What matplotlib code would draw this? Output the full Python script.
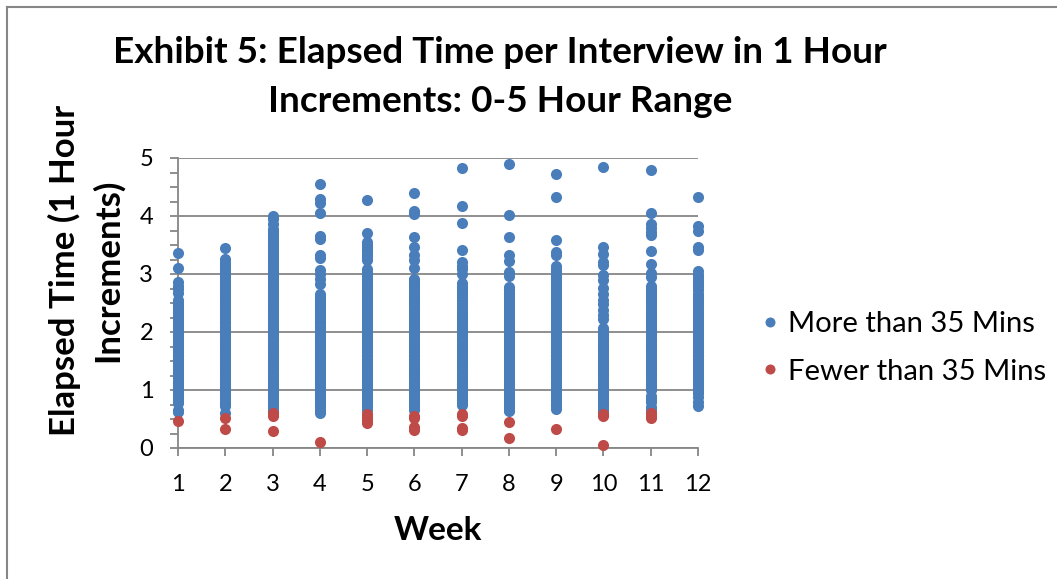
import matplotlib
matplotlib.use("Agg")
import matplotlib.pyplot as plt
from matplotlib.lines import Line2D
from matplotlib.ticker import MultipleLocator

weeks = list(range(1, 13))

# blue points (hours)
more_than_35 = {
    1: [0.62, 0.66, 0.78, 0.84, 0.9, 0.98, 1.05, 1.12, 1.2, 1.28, 1.35, 1.42, 1.5, 1.58, 1.65, 1.72, 1.8, 1.88, 1.95,
        2.05, 2.12, 2.2, 2.28, 2.35, 2.42, 2.5, 2.55, 2.68, 2.74, 2.8, 2.86, 3.1, 3.37],
    2: [0.6, 0.72, 0.8, 0.88, 0.95, 1.02, 1.1, 1.18, 1.25, 1.32, 1.4, 1.48, 1.55, 1.62, 1.7, 1.78, 1.85, 1.92, 2.0,
        2.08, 2.15, 2.22, 2.3, 2.38, 2.45, 2.52, 2.6, 2.68, 2.75, 2.82, 2.9, 2.98, 3.05, 3.12, 3.2, 3.26, 3.44],
    3: [0.62, 0.7, 0.78, 0.85, 0.92, 1.0, 1.08, 1.15, 1.22, 1.3, 1.38, 1.45, 1.52, 1.6, 1.68, 1.75, 1.82, 1.9, 1.98,
        2.05, 2.12, 2.2, 2.28, 2.35, 2.42, 2.5, 2.58, 2.65, 2.72, 2.8, 2.88, 2.95, 3.02, 3.1, 3.18, 3.25, 3.32, 3.4,
        3.48, 3.55, 3.62, 3.7, 3.78, 3.86, 3.94, 4.0],
    4: [0.6, 0.64, 0.72, 0.8, 0.88, 0.95, 1.02, 1.1, 1.18, 1.25, 1.32, 1.4, 1.48, 1.55, 1.62, 1.7, 1.78, 1.85, 1.92,
        2.0, 2.08, 2.15, 2.22, 2.3, 2.38, 2.45, 2.52, 2.6, 2.66, 2.83, 2.92, 3.0, 3.07, 3.28, 3.33, 3.6, 3.66, 4.06,
        4.22, 4.3, 4.55],
    5: [0.66, 0.74, 0.82, 0.9, 0.98, 1.05, 1.12, 1.2, 1.28, 1.35, 1.42, 1.5, 1.58, 1.65, 1.72, 1.8, 1.88, 1.95, 2.02,
        2.1, 2.18, 2.25, 2.32, 2.4, 2.48, 2.55, 2.62, 2.7, 2.78, 2.85, 2.92, 3.0, 3.08, 3.25, 3.33, 3.42, 3.5, 3.56,
        3.7, 4.27],
    6: [0.66, 0.74, 0.82, 0.9, 0.98, 1.05, 1.12, 1.2, 1.28, 1.35, 1.42, 1.5, 1.58, 1.65, 1.72, 1.8, 1.88, 1.95, 2.02,
        2.1, 2.18, 2.25, 2.32, 2.4, 2.48, 2.55, 2.62, 2.7, 2.78, 2.85, 2.92, 3.1, 3.25, 3.33, 3.47, 3.63, 4.03, 4.09,
        4.4],
    7: [0.75, 0.8, 0.86, 0.92, 1.0, 1.08, 1.15, 1.22, 1.3, 1.38, 1.45, 1.52, 1.6, 1.68, 1.75, 1.82, 1.9, 1.98, 2.05,
        2.12, 2.2, 2.28, 2.35, 2.45, 2.55, 2.65, 2.72, 2.8, 2.85, 3.0, 3.08, 3.14, 3.2, 3.42, 3.88, 4.18, 4.83],
    8: [0.63, 0.7, 0.78, 0.85, 0.92, 1.0, 1.08, 1.15, 1.22, 1.3, 1.38, 1.45, 1.52, 1.6, 1.68, 1.75, 1.82, 1.9, 1.98,
        2.05, 2.12, 2.2, 2.28, 2.35, 2.42, 2.5, 2.58, 2.65, 2.72, 2.78, 2.97, 3.03, 3.23, 3.33, 3.64, 4.02, 4.9],
    9: [0.68, 0.75, 0.82, 0.9, 0.98, 1.05, 1.12, 1.2, 1.28, 1.35, 1.42, 1.5, 1.58, 1.65, 1.72, 1.8, 1.88, 1.95, 2.02,
        2.1, 2.18, 2.25, 2.32, 2.42, 2.5, 2.58, 2.65, 2.72, 2.8, 2.88, 2.95, 3.02, 3.08, 3.14, 3.33, 3.38, 3.59, 4.33,
        4.72],
    10: [0.62, 0.68, 0.76, 0.84, 0.92, 1.0, 1.08, 1.15, 1.22, 1.3, 1.38, 1.45, 1.52, 1.6, 1.68, 1.75, 1.82, 1.9, 2.0,
         2.07, 2.22, 2.3, 2.38, 2.48, 2.55, 2.65, 2.76, 2.9, 2.98, 3.15, 3.2, 3.34, 3.47, 4.84],
    11: [0.65, 0.7, 0.8, 0.87, 1.0, 1.07, 1.15, 1.22, 1.3, 1.38, 1.45, 1.52, 1.6, 1.68, 1.75, 1.82, 1.9, 1.98, 2.05,
         2.12, 2.2, 2.28, 2.35, 2.42, 2.5, 2.58, 2.65, 2.72, 2.79, 2.95, 3.02, 3.18, 3.4, 3.67, 3.72, 3.8, 3.87, 4.05,
         4.8],
    12: [0.72, 0.8, 0.88, 0.95, 1.02, 1.1, 1.18, 1.25, 1.32, 1.42, 1.5, 1.58, 1.65, 1.72, 1.8, 1.88, 1.95, 2.02, 2.1,
         2.18, 2.25, 2.32, 2.42, 2.5, 2.58, 2.66, 2.72, 2.82, 2.9, 2.98, 3.05, 3.42, 3.47, 3.74, 3.83, 4.32],
}

# the packed middle of each column, where single dots can only be guessed
more_than_35_packed = {
    1: [0.81, 0.87, 0.94, 1.02, 1.08, 1.16, 1.24, 1.31, 1.38, 1.46, 1.54, 1.61, 1.68, 1.76, 1.84, 1.91, 1.98, 2.08,
        2.16, 2.24, 2.32, 2.38, 2.46],
    2: [0.76, 0.84, 0.91, 0.98, 1.06, 1.14, 1.21, 1.28, 1.36, 1.44, 1.51, 1.58, 1.66, 1.74, 1.81, 1.88, 1.96, 2.04,
        2.11, 2.18, 2.26, 2.34, 2.41, 2.48, 2.56, 2.64, 2.71, 2.78, 2.86, 2.94, 3.02, 3.08, 3.16],
    3: [0.66, 0.74, 0.81, 0.88, 0.96, 1.04, 1.11, 1.18, 1.26, 1.34, 1.41, 1.48, 1.56, 1.64, 1.71, 1.78, 1.86, 1.94,
        2.01, 2.08, 2.16, 2.24, 2.31, 2.38, 2.46, 2.54, 2.61, 2.68, 2.76, 2.84, 2.91, 2.98, 3.06, 3.14, 3.21, 3.28,
        3.36, 3.44, 3.51, 3.58, 3.66, 3.74],
    4: [0.68, 0.76, 0.84, 0.91, 0.98, 1.06, 1.14, 1.21, 1.28, 1.36, 1.44, 1.51, 1.58, 1.66, 1.74, 1.81, 1.88, 1.96,
        2.04, 2.11, 2.18, 2.26, 2.34, 2.41, 2.48, 2.56],
    5: [0.7, 0.78, 0.86, 0.94, 1.01, 1.08, 1.16, 1.24, 1.31, 1.38, 1.46, 1.54, 1.61, 1.68, 1.76, 1.84, 1.91, 1.98,
        2.06, 2.14, 2.21, 2.28, 2.36, 2.44, 2.51, 2.58, 2.66, 2.74, 2.81, 2.88, 2.96, 3.04, 3.29, 3.38, 3.46],
    6: [0.7, 0.78, 0.86, 0.94, 1.01, 1.08, 1.16, 1.24, 1.31, 1.38, 1.46, 1.54, 1.61, 1.68, 1.76, 1.84, 1.91, 1.98,
        2.06, 2.14, 2.21, 2.28, 2.36, 2.44, 2.51, 2.58, 2.66, 2.74, 2.81, 2.88],
    7: [0.83, 0.89, 0.96, 1.04, 1.11, 1.18, 1.26, 1.34, 1.41, 1.48, 1.56, 1.64, 1.71, 1.78, 1.86, 1.94, 2.01, 2.08,
        2.16, 2.24, 2.31, 2.4, 2.5, 2.6, 2.68, 2.76],
    8: [0.66, 0.74, 0.81, 0.88, 0.96, 1.04, 1.11, 1.18, 1.26, 1.34, 1.41, 1.48, 1.56, 1.64, 1.71, 1.78, 1.86, 1.94,
        2.01, 2.08, 2.16, 2.24, 2.31, 2.38, 2.46, 2.54, 2.61, 2.68, 2.75],
    9: [0.72, 0.78, 0.86, 0.94, 1.01, 1.08, 1.16, 1.24, 1.31, 1.38, 1.46, 1.54, 1.61, 1.68, 1.76, 1.84, 1.91, 1.98,
        2.06, 2.14, 2.21, 2.28, 2.36, 2.46, 2.54, 2.61, 2.68, 2.76, 2.84, 2.91, 2.98, 3.05],
    10: [0.72, 0.8, 0.88, 0.96, 1.04, 1.11, 1.18, 1.26, 1.34, 1.41, 1.48, 1.56, 1.64, 1.71, 1.78, 1.86, 1.95, 2.03],
    11: [0.83, 0.9, 1.03, 1.11, 1.18, 1.26, 1.34, 1.41, 1.48, 1.56, 1.64, 1.71, 1.78, 1.86, 1.94, 2.01, 2.08, 2.16,
         2.24, 2.31, 2.38, 2.46, 2.54, 2.61, 2.68, 2.76],
    12: [0.98, 1.06, 1.14, 1.21, 1.28, 1.37, 1.46, 1.54, 1.61, 1.68, 1.76, 1.84, 1.91, 1.98, 2.06, 2.14, 2.21, 2.28,
         2.37, 2.46, 2.54, 2.62, 2.77, 2.86, 2.94],
}

# red points
fewer_than_35 = {
    1: [0.47],
    2: [0.32, 0.52],
    3: [0.29, 0.55, 0.6],
    4: [0.11],
    5: [0.43, 0.48, 0.53, 0.58],
    6: [0.31, 0.36, 0.52, 0.56],
    7: [0.31, 0.34, 0.56, 0.58],
    8: [0.17, 0.45],
    9: [0.32],
    10: [0.06, 0.56, 0.58],
    11: [0.52, 0.56, 0.6],
    12: [],
}

title = "Exhibit 5: Elapsed Time per Interview in 1 Hour\nIncrements: 0-5 Hour Range"
y_label = "Elapsed Time (1 Hour\nIncrements)"
x_label = "Week"
series_names = ["More than 35 Mins", "Fewer than 35 Mins"]

BLUE = "#4a7ebb"
RED = "#be4b48"
GRID = "#868686"

plt.rcParams["font.family"] = ["Lato", "DejaVu Sans"]

W, H = 1057, 579
fig = plt.figure(figsize=(W / 100, H / 100), dpi=100)
ax = fig.add_axes([178 / W, 1 - 448 / H, 520 / W, 290 / H])

for w in weeks:
    ys = more_than_35[w] + more_than_35_packed[w]
    ax.scatter([w] * len(ys), ys, s=64, color=BLUE, linewidths=0, clip_on=False, zorder=3)
for w in weeks:
    ys = fewer_than_35[w]
    if ys:
        ax.scatter([w] * len(ys), ys, s=64, color=RED, linewidths=0, clip_on=False, zorder=4)

ax.set_xlim(1, 12)
ax.set_ylim(0, 5)
ax.set_xticks(weeks)
ax.yaxis.set_major_locator(MultipleLocator(1))
ax.yaxis.set_minor_locator(MultipleLocator(0.25))
ax.grid(axis="y", which="major", color=GRID, lw=1.3, zorder=1)
ax.set_axisbelow(True)

for s in ["top", "right"]:
    ax.spines[s].set_visible(False)
for s in ["left", "bottom"]:
    ax.spines[s].set_color(GRID)
    ax.spines[s].set_linewidth(1.3)

ax.tick_params(axis="both", which="major", color=GRID, width=1.3, length=5.8, labelsize=17)
ax.tick_params(axis="y", which="minor", color=GRID, width=1.3, length=5.8)
ax.tick_params(axis="y", which="major", pad=12)
ax.tick_params(axis="x", which="major", pad=13)

fig.text(500 / W, 1 - 77 / H, title, ha="center", va="center", fontsize=26.6, fontweight="bold", linespacing=1.57)
fig.text(86 / W, 1 - 270 / H, y_label, ha="center", va="center", rotation=90, fontsize=25, fontweight="bold", linespacing=1.37)
fig.text(438 / W, 1 - 530 / H, x_label, ha="center", va="center", fontsize=24, fontweight="bold")

handles = [Line2D([], [], ls="", marker="o", ms=7.2, color=c, mew=0) for c in (BLUE, RED)]
fig.legend(handles, series_names, loc="center left", bbox_to_anchor=(763 / W, 1 - 348 / H), frameon=False,
           fontsize=21.1, handlelength=0.5, handletextpad=0.36, labelspacing=0.72, borderaxespad=0, borderpad=0)

# outer chart border
fig.add_artist(Line2D([7 / W, 7 / W], [0, 1 - 7 / H], color=GRID, lw=1.5, transform=fig.transFigure))
fig.add_artist(Line2D([7 / W, 1], [1 - 7 / H, 1 - 7 / H], color=GRID, lw=1.5, transform=fig.transFigure))

fig.savefig("out.png", dpi=100)
